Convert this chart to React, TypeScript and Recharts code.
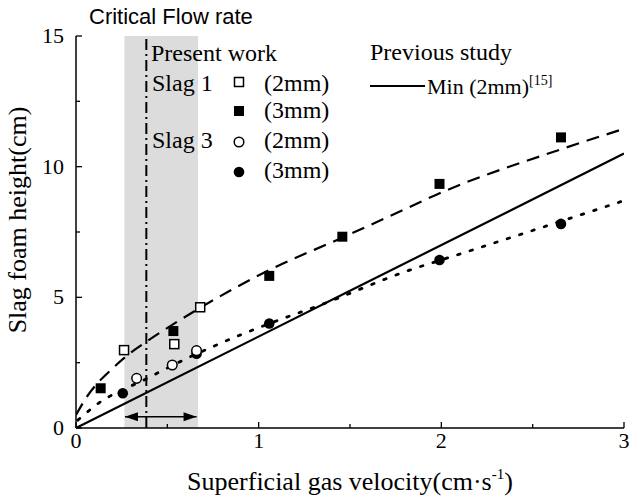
import React from 'react';
import {
  ComposedChart,
  Line,
  Scatter,
  XAxis,
  YAxis,
  ReferenceArea,
  ReferenceLine,
} from 'recharts';

// measured points
const slag1Open = [
  { x: 0.263, y: 2.98 },
  { x: 0.538, y: 3.21 },
  { x: 0.68, y: 4.62 },
];
const slag1Filled = [
  { x: 0.135, y: 1.52 },
  { x: 0.533, y: 3.71 },
  { x: 1.058, y: 5.82 },
  { x: 1.458, y: 7.32 },
  { x: 1.99, y: 9.34 },
  { x: 2.655, y: 11.12 },
];
const slag3Open = [
  { x: 0.332, y: 1.9 },
  { x: 0.527, y: 2.41 },
  { x: 0.66, y: 2.96 },
];
const slag3Filled = [
  { x: 0.256, y: 1.33 },
  { x: 0.66, y: 2.84 },
  { x: 1.058, y: 4.0 },
  { x: 1.99, y: 6.43 },
  { x: 2.655, y: 7.81 },
];

// fitted curves
const dashedFit = [
  { x: 0.0, y: 0.5 },
  { x: 0.06, y: 1.2 },
  { x: 0.2, y: 2.28 },
  { x: 0.315, y: 2.96 },
  { x: 0.385, y: 3.3 },
  { x: 0.68, y: 4.6 },
  { x: 1.06, y: 6.05 },
  { x: 1.45, y: 7.26 },
  { x: 1.79, y: 8.34 },
  { x: 1.97, y: 8.92 },
  { x: 2.67, y: 10.7 },
  { x: 3.0, y: 11.45 },
];
const dottedFit = [
  { x: 0.01, y: 0.3 },
  { x: 0.11, y: 0.88 },
  { x: 0.39, y: 1.9 },
  { x: 0.57, y: 2.54 },
  { x: 0.77, y: 3.18 },
  { x: 1.06, y: 4.0 },
  { x: 1.335, y: 4.7 },
  { x: 1.83, y: 6.05 },
  { x: 2.0, y: 6.43 },
  { x: 2.65, y: 7.9 },
  { x: 3.0, y: 8.7 },
];
const previousStudy = [
  { x: 0, y: 0 },
  { x: 1.5, y: 5.25 },
  { x: 3, y: 10.5 },
];

const criticalBand = [0.265, 0.668];
const criticalRate = 0.385;
const arrowSpan = [
  { x: 0.268, y: 0.43 },
  { x: 0.66, y: 0.43 },
];

const xTicks = [0, 0.5, 1, 1.5, 2, 2.5, 3];
const yTicks = [0, 2.5, 5, 7.5, 10, 12.5, 15];

const SERIF = '"Liberation Serif", "Times New Roman", serif';
const SANS = '"Liberation Sans", Arial, sans-serif';

const BottomTick = (props: any) => {
  const { x, y, payload } = props;
  const major = Number.isInteger(payload.value);
  return (
    <g>
      <line x1={x} x2={x} y1={y} y2={y - (major ? 6 : 4)} stroke="#000" strokeWidth={1.3} />
      {major && (
        <text x={x} y={y + 20} textAnchor="middle" fontSize={22} fontFamily={SERIF} fill="#000">
          {payload.value}
        </text>
      )}
    </g>
  );
};

const TopTick = (props: any) => {
  const { x, y, payload } = props;
  const major = Number.isInteger(payload.value);
  return <line x1={x} x2={x} y1={y} y2={y + (major ? 6 : 4)} stroke="#000" strokeWidth={1.3} />;
};

const LeftTick = (props: any) => {
  const { x, y, payload } = props;
  const major = payload.value % 5 === 0;
  return (
    <g>
      <line x1={x} x2={x + (major ? 6 : 4)} y1={y} y2={y} stroke="#000" strokeWidth={1.3} />
      {major && (
        <text x={x - 12} y={y + 7} textAnchor="end" fontSize={22} fontFamily={SERIF} fill="#000">
          {payload.value}
        </text>
      )}
    </g>
  );
};

const RightTick = (props: any) => {
  const { x, y, payload } = props;
  const major = payload.value % 5 === 0;
  return <line x1={x} x2={x - (major ? 6 : 4)} y1={y} y2={y} stroke="#000" strokeWidth={1.3} />;
};

const openSquare = (p: any) => (
  <rect x={p.cx - 4.5} y={p.cy - 4.5} width={9} height={9} fill="#fff" stroke="#000" strokeWidth={1.5} />
);
const filledSquare = (p: any) => (
  <rect x={p.cx - 5} y={p.cy - 5} width={10} height={10} fill="#000" />
);
const openCircle = (p: any) => (
  <circle cx={p.cx} cy={p.cy} r={4.8} fill="#fff" stroke="#000" strokeWidth={1.5} />
);
const filledCircle = (p: any) => <circle cx={p.cx} cy={p.cy} r={5.3} fill="#000" />;

const arrowHead = (p: any) => {
  const { cx, cy, index } = p;
  const d = index === 0 ? 1 : -1;
  return (
    <path
      key={`ah-${index}`}
      d={`M${cx},${cy} L${cx + d * 13},${cy - 4.5} L${cx + d * 13},${cy + 4.5} Z`}
      fill="#000"
    />
  );
};

const Annotations = () => (
  <svg
    width={630}
    height={499}
    style={{ position: 'absolute', left: 0, top: 0, pointerEvents: 'none' }}
  >
    <text x={89} y={24} fontSize={22} fontFamily={SANS} fill="#000">
      Critical Flow rate
    </text>
    <g fontFamily={SERIF} fontSize={24} fill="#000">
      <text x={151} y={61}>Present work</text>
      <text x={152} y={91}>Slag 1</text>
      <text x={152} y={148}>Slag 3</text>
      <text x={264} y={91}>(2mm)</text>
      <text x={264} y={118}>(3mm)</text>
      <text x={264} y={148}>(2mm)</text>
      <text x={264} y={178}>(3mm)</text>
      <text x={370} y={60}>Previous study</text>
      <text x={427} y={94} fontSize={22}>Min (2mm)</text>
      <text x={529} y={85} fontSize={14}>[15]</text>
    </g>
    <rect x={234.5} y={77.5} width={9} height={9} fill="#fff" stroke="#000" strokeWidth={1.5} />
    <rect x={234} y={106} width={10} height={10} fill="#000" />
    <circle cx={239} cy={142} r={4.8} fill="#fff" stroke="#000" strokeWidth={1.5} />
    <circle cx={239} cy={172} r={5.3} fill="#000" />
    <line x1={370} x2={425} y1={86} y2={86} stroke="#000" strokeWidth={2.2} />
    <text x={350} y={490} textAnchor="middle" fontSize={26} fontFamily={SERIF} fill="#000">
      Superficial gas velocity(cm·s
      <tspan fontSize={15} dy={-11}>-1</tspan>
      <tspan dy={11}>)</tspan>
    </text>
    <text
      transform="translate(26,220) rotate(-90)"
      textAnchor="middle"
      fontSize={26}
      fontFamily={SERIF}
      fill="#000"
    >
      Slag foam height(cm)
    </text>
  </svg>
);

export default function App() {
  return (
    <div style={{ position: 'absolute', left: 0, top: 0, width: 630, height: 499, background: '#fff' }}>
      <ComposedChart
        width={630}
        height={499}
        margin={{ top: 36, right: 6, bottom: 31, left: 26 }}
      >
        <XAxis
          dataKey="x"
          type="number"
          domain={[0, 3]}
          ticks={xTicks}
          interval={0}
          tickSize={0}
          tickMargin={0}
          tickLine={false}
          tick={BottomTick}
          height={40}
          axisLine={{ stroke: '#000', strokeWidth: 1.5 }}
          allowDataOverflow
        />
        <XAxis
          xAxisId="top"
          orientation="top"
          type="number"
          domain={[0, 3]}
          ticks={xTicks}
          interval={0}
          tickSize={0}
          tickMargin={0}
          tickLine={false}
          tick={TopTick}
          height={0}
          axisLine={{ stroke: '#000', strokeWidth: 1.5 }}
        />
        <YAxis
          dataKey="y"
          type="number"
          domain={[0, 15]}
          ticks={yTicks}
          interval={0}
          tickSize={0}
          tickMargin={0}
          tickLine={false}
          tick={LeftTick}
          width={50}
          axisLine={{ stroke: '#000', strokeWidth: 1.5 }}
          allowDataOverflow
        />
        <YAxis
          yAxisId="right"
          orientation="right"
          type="number"
          domain={[0, 15]}
          ticks={yTicks}
          interval={0}
          tickSize={0}
          tickMargin={0}
          tickLine={false}
          tick={RightTick}
          width={0}
          axisLine={{ stroke: '#000', strokeWidth: 1.5 }}
        />
        <ReferenceArea
          x1={criticalBand[0]}
          x2={criticalBand[1]}
          y1={0}
          y2={15}
          fill="#dcdcdc"
          fillOpacity={1}
          stroke="none"
        />
        <ReferenceLine
          x={criticalRate}
          stroke="#000"
          strokeWidth={2}
          strokeDasharray="11 4 2 4"
        />
        <Line
          data={previousStudy}
          dataKey="y"
          type="linear"
          stroke="#000"
          strokeWidth={2.2}
          dot={false}
          isAnimationActive={false}
        />
        <Line
          data={dashedFit}
          dataKey="y"
          type="monotone"
          stroke="#000"
          strokeWidth={2.2}
          strokeDasharray="13 8"
          dot={false}
          isAnimationActive={false}
        />
        <Line
          data={dottedFit}
          dataKey="y"
          type="monotone"
          stroke="#000"
          strokeWidth={2.8}
          strokeDasharray="2.5 10.5"
          strokeLinecap="round"
          dot={false}
          isAnimationActive={false}
        />
        <Line
          data={arrowSpan}
          dataKey="y"
          type="linear"
          stroke="#000"
          strokeWidth={1.5}
          dot={arrowHead}
          isAnimationActive={false}
        />
        <Scatter data={slag3Filled} dataKey="y" shape={filledCircle} isAnimationActive={false} />
        <Scatter data={slag1Filled} dataKey="y" shape={filledSquare} isAnimationActive={false} />
        <Scatter data={slag1Open} dataKey="y" shape={openSquare} isAnimationActive={false} />
        <Scatter data={slag3Open} dataKey="y" shape={openCircle} isAnimationActive={false} />
      </ComposedChart>
      <Annotations />
    </div>
  );
}
